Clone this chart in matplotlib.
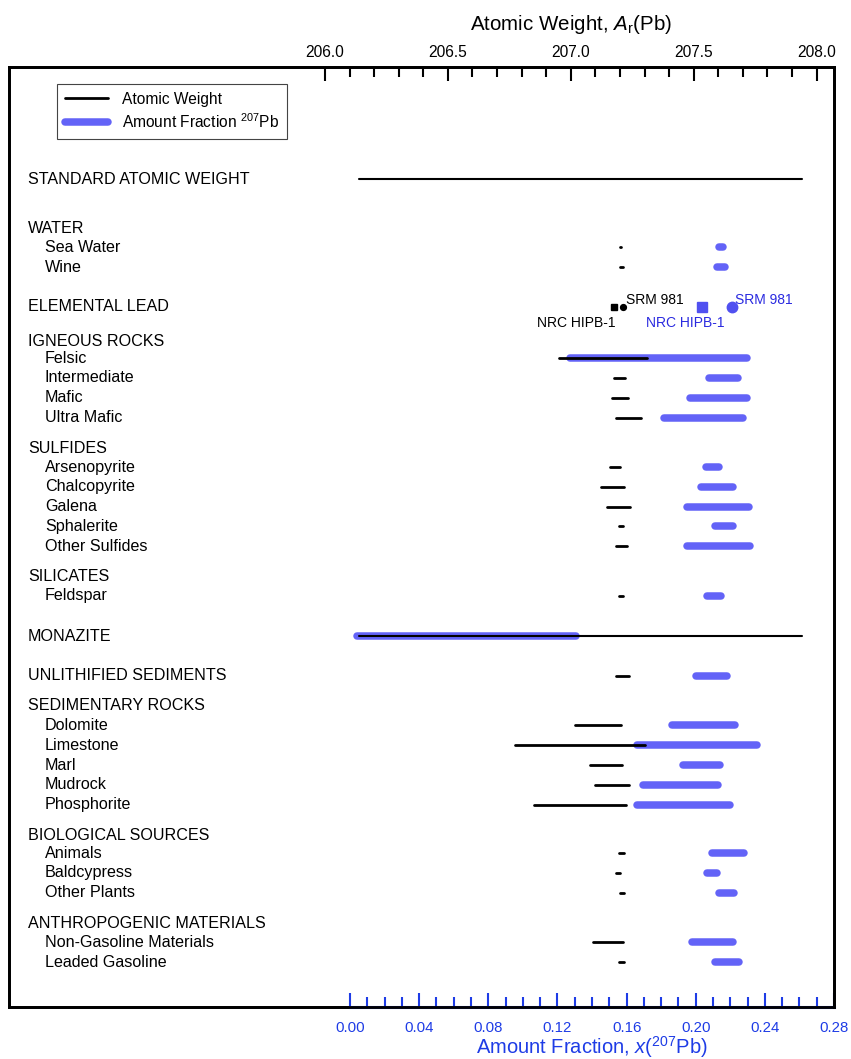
import matplotlib
import numpy as np

matplotlib.use("Agg")
import matplotlib.pyplot as plt
from matplotlib.lines import Line2D
from matplotlib.ticker import FixedLocator, FormatStrFormatter
import matplotlib.transforms as mtransforms

plt.rcParams["font.family"] = ["Liberation Sans", "DejaVu Sans"]
plt.rcParams["mathtext.fontset"] = "custom"
plt.rcParams["mathtext.rm"] = "Liberation Sans"
plt.rcParams["mathtext.it"] = "Liberation Sans:italic"

nan = np.nan

# --- data -------------------------------------------------------------
labels = [
    "STANDARD ATOMIC WEIGHT",
    "WATER", "Sea Water", "Wine",
    "ELEMENTAL LEAD",
    "IGNEOUS ROCKS", "Felsic", "Intermediate", "Mafic", "Ultra Mafic",
    "SULFIDES", "Arsenopyrite", "Chalcopyrite", "Galena", "Sphalerite", "Other Sulfides",
    "SILICATES", "Feldspar",
    "MONAZITE",
    "UNLITHIFIED SEDIMENTS",
    "SEDIMENTARY ROCKS", "Dolomite", "Limestone", "Marl", "Mudrock", "Phosphorite",
    "BIOLOGICAL SOURCES", "Animals", "Baldcypress", "Other Plants",
    "ANTHROPOGENIC MATERIALS", "Non-Gasoline Materials", "Leaded Gasoline",
]
is_header = [
    True,
    True, False, False,
    True,
    True, False, False, False, False,
    True, False, False, False, False, False,
    True, False,
    True,
    True,
    True, False, False, False, False, False,
    True, False, False, False,
    True, False, False,
]
# atomic weight ranges, Ar(Pb)
ar_low = [
    206.14,
    nan, 207.201, 207.199,
    nan,
    nan, 206.950, 207.176, 207.167, 207.185,
    nan, 207.158, 207.124, 207.148, 207.198, 207.185,
    nan, 207.194,
    206.14,
    207.185,
    nan, 207.019, 206.771, 207.080, 207.099, 206.850,
    nan, 207.196, 207.185, 207.202,
    nan, 207.091, 207.198,
]
ar_high = [
    207.94,
    nan, 207.206, 207.212,
    nan,
    nan, 207.308, 207.222, 207.232, 207.287,
    nan, 207.202, 207.218, 207.242, 207.212, 207.230,
    nan, 207.214,
    207.94,
    207.235,
    nan, 207.206, 207.303, 207.208, 207.235, 207.226,
    nan, 207.218, 207.199, 207.215,
    nan, 207.212, 207.218,
]
# amount fraction ranges, x(207Pb)
x207_low = [
    nan,
    nan, 0.2132, 0.2122,
    nan,
    nan, 0.1274, 0.2074, 0.1968, 0.1819,
    nan, 0.2061, 0.2033, 0.1948, 0.2114, 0.1948,
    nan, 0.2064,
    0.0043,
    0.2003,
    nan, 0.1862, 0.1659, 0.1924, 0.1694, 0.1663,
    nan, 0.2097, 0.2064, 0.2132,
    nan, 0.1976, 0.2113,
]
x207_high = [
    nan,
    nan, 0.2159, 0.2170,
    nan,
    nan, 0.2297, 0.2246, 0.2298, 0.2271,
    nan, 0.2134, 0.2213, 0.2309, 0.2217, 0.2313,
    nan, 0.2149,
    0.1306,
    0.2182,
    nan, 0.2230, 0.2356, 0.2139, 0.2130, 0.2201,
    nan, 0.2278, 0.2124, 0.2219,
    nan, 0.2215, 0.2252,
]

ref_names = ["NRC HIPB-1", "SRM 981"]
ref_ar = [207.177, 207.213]
ref_x207 = [0.2038, 0.2208]

# --- layout: vertical gap (in row units) before each row ---------------
row_gap = [
    0.0,
    2.5, 0.95, 1.0,
    2.0,
    1.75, 0.85, 1.0, 1.0, 1.0,
    1.55, 0.95, 1.0, 1.0, 1.0, 1.0,
    1.55, 0.95,
    2.05,
    2.0,
    1.5, 1.0, 1.0, 1.0, 1.0, 1.0,
    1.55, 0.9, 1.0, 1.0,
    1.55, 0.95, 1.0,
]
row_y = np.cumsum(row_gap)

BLACK = "#000000"
BAR_BLUE = "#6363F7"
AXIS_BLUE = "#1E3CE6"
TEXT_BLUE = "#2A2AE0"

fig = plt.figure(figsize=(8.51, 10.59), dpi=100)
ax = fig.add_axes([9 / 851, 52 / 1059, 825 / 851, 940 / 1059])
ax.set_xlim(-0.1973, 0.28)
ax.set_ylim(41.82, -5.657)

ax_top = ax.twiny()
ax_top.set_xlim(204.7146, 208.0706)

# amount-fraction bars (blue, underneath)
for y, lo, hi in zip(row_y, x207_low, x207_high):
    if np.isnan(lo):
        continue
    ax.plot([lo, hi], [y, y], color=BAR_BLUE, lw=5.4, solid_capstyle="round")

# atomic-weight lines (black, on top)
for label, y, lo, hi in zip(labels, row_y, ar_low, ar_high):
    if np.isnan(lo):
        continue
    lw = 1.5 if hi - lo > 1.0 else 2.0
    ax_top.plot([lo, hi], [y, y], color=BLACK, lw=lw, solid_capstyle="round")

# elemental lead reference materials
lead_y = row_y[labels.index("ELEMENTAL LEAD")]
ax_top.plot(ref_ar[0], lead_y, marker="s", color=BLACK, ms=4.2, ls="none")
ax_top.plot(ref_ar[1], lead_y, marker="o", color=BLACK, ms=4.2, ls="none")
ax.plot(ref_x207[0], lead_y, marker="s", color="#5050F0", ms=7.0, ls="none")
ax.plot(ref_x207[1], lead_y, marker="o", color="#5050F0", ms=7.5, ls="none")

ax_top.annotate(ref_names[1], (ref_ar[1], lead_y), xytext=(2, 5),
                textcoords="offset points", ha="left", va="center", fontsize=10)
ax_top.annotate(ref_names[0], (ref_ar[0], lead_y), xytext=(1, -12),
                textcoords="offset points", ha="right", va="center", fontsize=10)
ax.annotate(ref_names[1], (ref_x207[1], lead_y), xytext=(2.5, 5),
            textcoords="offset points", ha="left", va="center", fontsize=10,
            color=TEXT_BLUE)
ax.annotate(ref_names[0], (ref_x207[0], lead_y), xytext=(-12.5, -12),
            textcoords="offset points", ha="center", va="center", fontsize=10,
            color=TEXT_BLUE)

# row labels
trans = mtransforms.blended_transform_factory(ax.transAxes, ax.transData)
for label, head, y in zip(labels, is_header, row_y):
    x = 0.023 if head else 0.0436
    ax.text(x, y, label, transform=trans, ha="left", va="center", fontsize=11.6)

# frame
for side in ["left", "right", "top", "bottom"]:
    ax.spines[side].set_linewidth(2.0)
    ax_top.spines[side].set_linewidth(2.0)
ax.plot([0, 0.28], [0, 0], transform=mtransforms.blended_transform_factory(ax.transData, ax.transAxes),
        color=AXIS_BLUE, lw=2.2, clip_on=False, zorder=5)

ax.set_yticks([])
ax_top.set_yticks([])

# bottom axis: amount fraction
ax.xaxis.set_major_locator(FixedLocator(np.round(np.arange(0.0, 0.2801, 0.04), 2)))
ax.xaxis.set_minor_locator(FixedLocator(np.round(np.arange(0.0, 0.2801, 0.01), 2)))
ax.xaxis.set_major_formatter(FormatStrFormatter("%.2f"))
ax.tick_params(axis="x", which="both", direction="in", colors=AXIS_BLUE, width=1.5,
               labelsize=10.8, labelcolor=AXIS_BLUE, pad=10)
ax.tick_params(axis="x", which="major", length=10)
ax.tick_params(axis="x", which="minor", length=7)
ax.set_xlabel("Amount Fraction, $x(^{207}\\mathrm{Pb})$", color=AXIS_BLUE, fontsize=14.5,
              labelpad=0)
ax.xaxis.set_label_coords((592 - 9) / 825, -27 / 940)

# top axis: atomic weight
ax_top.xaxis.set_major_locator(FixedLocator(np.round(np.arange(206.0, 208.01, 0.5), 1)))
ax_top.xaxis.set_minor_locator(FixedLocator(np.round(np.arange(206.0, 208.01, 0.1), 1)))
ax_top.xaxis.set_major_formatter(FormatStrFormatter("%.1f"))
ax_top.tick_params(axis="x", which="both", direction="in", width=1.5, labelsize=11.2, pad=5)
ax_top.tick_params(axis="x", which="major", length=10)
ax_top.tick_params(axis="x", which="minor", length=7)
ax_top.set_xlabel("Atomic Weight, $A_\\mathrm{r}$(Pb)", fontsize=14.8, labelpad=10)
ax_top.xaxis.set_label_coords((571 - 9) / 825, 1.0 + 37 / 940)

# legend
handles = [
    Line2D([], [], color=BLACK, lw=2.0, solid_capstyle="round"),
    Line2D([], [], color=BAR_BLUE, lw=5.4, solid_capstyle="round"),
]
leg = ax_top.legend(handles, ["Atomic Weight", "Amount Fraction $^{207}$Pb"],
                    loc="upper left", bbox_to_anchor=(48 / 825, 1 - 17 / 940), fontsize=11.2,
                    handlelength=2.8, handletextpad=0.9, borderpad=0.5,
                    labelspacing=0.35, borderaxespad=0.0, fancybox=False,
                    framealpha=1.0, edgecolor="#444444")
leg.get_frame().set_linewidth(0.8)

fig.savefig("out.png", dpi=100)
